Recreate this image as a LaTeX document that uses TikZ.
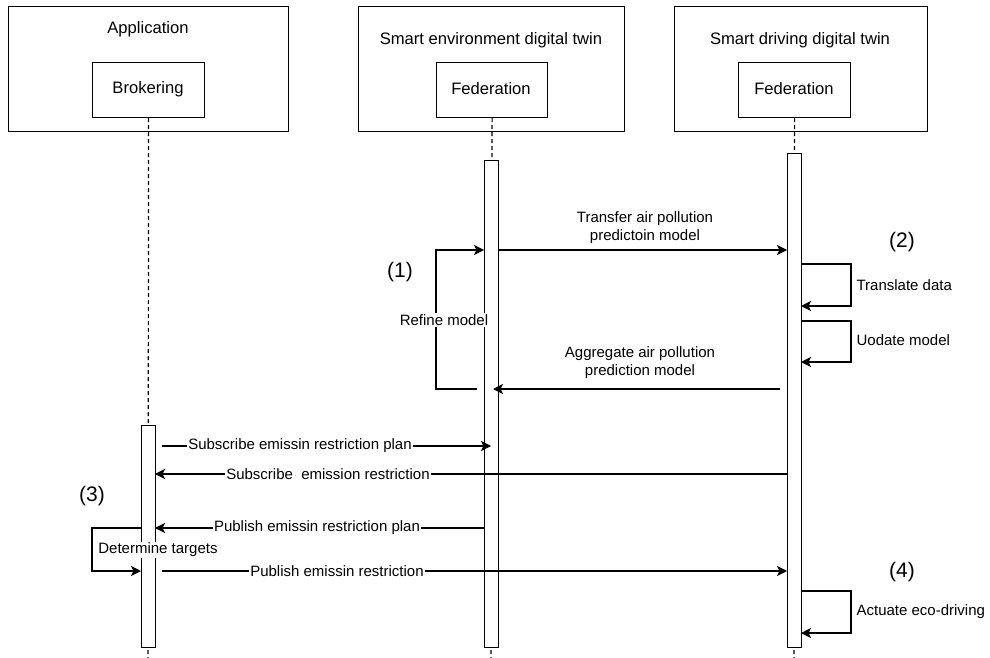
\documentclass[tikz,border=0pt]{standalone}
\usepackage{fontspec}
\setmainfont{Liberation Sans}
\usetikzlibrary{arrows.meta}
\begin{document}
\begin{tikzpicture}[x=1pt,y=-1pt,line width=1.2pt,
  frame/.style={draw,rectangle,anchor=north west,inner sep=0pt},
  title/.style={font=\fontsize{16.6}{20}\selectfont,inner sep=0pt},
  msg/.style={font=\fontsize{15}{18}\selectfont,inner sep=0pt},
  msgon/.style={msg,fill=white,inner xsep=1pt,inner ysep=1pt},
  msgup/.style={msg,align=center},
  stepnum/.style={font=\fontsize{21}{24}\selectfont,inner sep=0pt},
  bar/.style={draw,fill=white,rectangle,anchor=north west,inner sep=0pt,minimum width=14pt},
  lifeline/.style={dash pattern=on 4pt off 3pt},
  call/.style={-{Stealth[length=10pt,width=10pt,inset=2.5pt]}}]
\useasboundingbox (0,0) rectangle (990,658);

% participant frames with their inner components
\node[frame,minimum width=280pt,minimum height=125pt] (app) at (8,6) {};
\node[title] (appT) at (148,29) {Application};
\node[frame,minimum width=112pt,minimum height=55pt] (brok) at (92,62) {};
\node[title] (brokT) at (148,89) {Brokering};

\node[frame,minimum width=266pt,minimum height=125pt] (env) at (358,6) {};
\node[title] (envT) at (491,40) {Smart environment digital twin};
\node[frame,minimum width=111pt,minimum height=55pt] (fedA) at (436,62) {};
\node[title] (fedAT) at (491,89) {Federation};

\node[frame,minimum width=253pt,minimum height=125pt] (drv) at (674,6) {};
\node[title] (drvT) at (800,40) {Smart driving digital twin};
\node[frame,minimum width=112pt,minimum height=55pt] (fedB) at (738,62) {};
\node[title] (fedBT) at (794,89) {Federation};

% lifelines
\coordinate (llA) at (148,658);
\coordinate (llB) at (491,658);
\coordinate (llC) at (794,658);
\draw[lifeline] (brok.south) -- (llA);
\draw[lifeline] (fedA.south) -- (llB);
\draw[lifeline] (fedB.south) -- (llC);

% activation bars
\node[bar,minimum height=222pt] (barA) at (141,425) {};
\node[bar,minimum height=487pt] (barB) at (484,160) {};
\node[bar,minimum height=494pt] (barC) at (787,153) {};

% message end points
\coordinate (t1) at (498,250);  \coordinate (t2) at (787,250);
\coordinate (r1) at (477,389);  \coordinate (r2) at (436,389);
\coordinate (r3) at (436,250);  \coordinate (r4) at (484,250);
\coordinate (g1) at (780,389);  \coordinate (g2) at (493,389);
\coordinate (d1) at (801,264);  \coordinate (d2) at (851,264);
\coordinate (d3) at (851,306);  \coordinate (d4) at (801,306);
\coordinate (u1) at (801,321);  \coordinate (u2) at (851,321);
\coordinate (u3) at (851,362);  \coordinate (u4) at (801,362);
\coordinate (s1) at (162,446);  \coordinate (s2) at (491,446);
\coordinate (e1) at (787,474);  \coordinate (e2) at (155,474);
\coordinate (p1) at (484,528);  \coordinate (p2) at (155,528);
\coordinate (k1) at (141,528);  \coordinate (k2) at (92,528);
\coordinate (k3) at (92,571);   \coordinate (k4) at (141,571);
\coordinate (q1) at (162,571);  \coordinate (q2) at (787,571);
\coordinate (a1) at (801,591);  \coordinate (a2) at (851,591);
\coordinate (a3) at (851,633);  \coordinate (a4) at (801,633);

% (1) model exchange between the twins
\draw[call] (t1) -- (t2);
\node[msgup] (tL) at (645,228) {Transfer air pollution\\ predictoin model};
\draw[call] (r1) -- (r2) -- (r3) -- (r4);
\node[msgon] (rL) at (444,320) {Refine model};
\draw[call] (g1) -- (g2);
\node[msgup] (gL) at (640,363) {Aggregate air pollution\\ prediction model};
\node[stepnum] (n1) at (400,272) {(1)};

% (2) local processing in the driving twin
\node[stepnum] (n2) at (902,242) {(2)};
\draw[call] (d1) -- (d2) -- (d3) -- (d4);
\node[msg,anchor=west] (dL) at (856,285) {Translate data};
\draw[call] (u1) -- (u2) -- (u3) -- (u4);
\node[msg,anchor=west] (uL) at (856,340) {Uodate model};

% (3) brokering of the restriction plan
\draw[call] (s1) -- (s2);
\node[msgon] (sL) at (300,446) {Subscribe emissin restriction plan};
\draw[call] (e1) -- (e2);
\node[msgon] (eL) at (328,474) {Subscribe\ \ emission restriction};
\node[stepnum] (n3) at (92,496) {(3)};
\draw[call] (p1) -- (p2);
\node[msgon] (pL) at (317,528) {Publish emissin restriction plan};
\draw[call] (k1) -- (k2) -- (k3) -- (k4);
\node[msgon] (kL) at (158,550) {Determine targets};
\draw[call] (q1) -- (q2);
\node[msgon] (qL) at (337,571) {Publish emissin restriction};

% (4) actuation
\node[stepnum] (n4) at (902,572) {(4)};
\draw[call] (a1) -- (a2) -- (a3) -- (a4);
\node[msg,anchor=west] (aL) at (856,612) {Actuate eco-driving};
\end{tikzpicture}
\end{document}
